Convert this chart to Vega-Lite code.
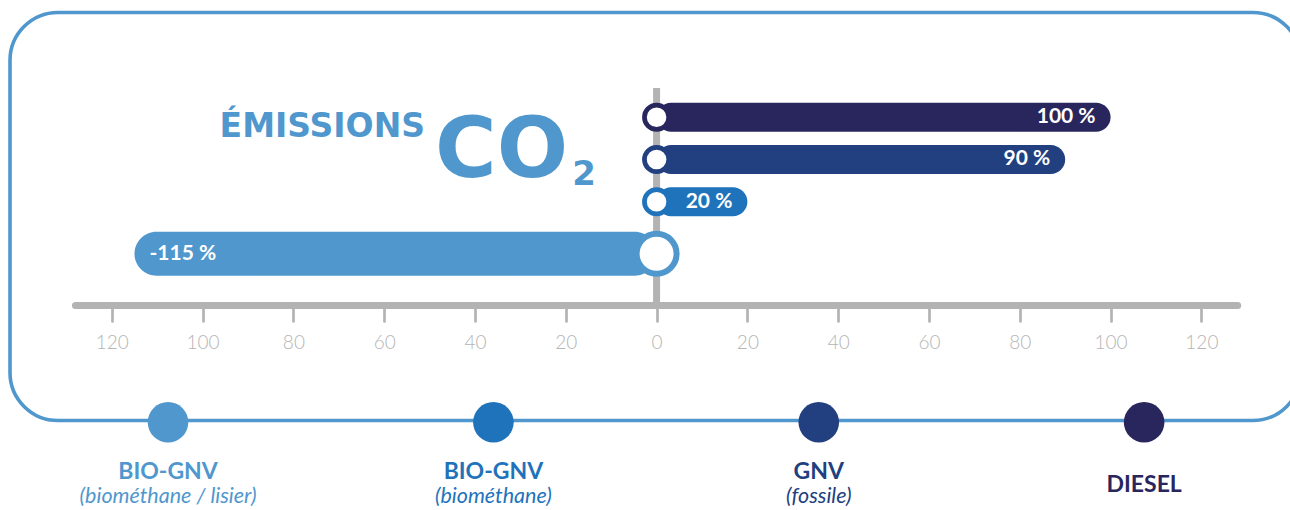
{
  "$schema": "https://vega.github.io/schema/vega-lite/v6.json",
  "width": 1280,
  "height": 408,
  "autosize": {"type": "none"},
  "padding": {"left": 10, "top": 12.5, "right": 0, "bottom": 89.5},
  "background": "white",
  "config": {"view": {"stroke": null}, "font": "Lato"},
  "data": {
    "values": [
      {"fuel": "DIESEL", "name": "DIESEL", "sub": "", "value": 100, "label": "100 %"},
      {"fuel": "GNV (fossile)", "name": "GNV", "sub": "(fossile)", "value": 90, "label": "90 %"},
      {"fuel": "BIO-GNV (biométhane)", "name": "BIO-GNV", "sub": "(biométhane)", "value": 20, "label": "20 %"},
      {"fuel": "BIO-GNV (biométhane / lisier)", "name": "BIO-GNV", "sub": "(biométhane / lisier)", "value": -115, "label": "-115 %"}
    ]
  },
  "resolve": {"scale": {"x": "independent"}, "axis": {"x": "independent"}},
  "layer": [
    {
      "layer": [
        {
          "data": {"values": [{}]},
          "mark": {"type": "rect", "fill": "transparent", "stroke": "#4f97cd", "strokeWidth": 3.6, "cornerRadius": 48},
          "encoding": {
            "x": {"datum": -142.42, "type": "quantitative", "scale": {"domain": [-142.42, 139.52], "nice": false, "zero": false},
                  "axis": {"values": [-120, -100, -80, -60, -40, -20, 0, 20, 40, 60, 80, 100, 120],
                           "labelExpr": "abs(datum.value)", "title": null, "domain": false, "grid": false,
                           "offset": -111.5, "ticks": true, "tickSize": 12, "tickWidth": 2.7, "tickColor": "#b3b3b3", "tickCap": "round",
                           "labelFont": "Lato", "labelFontWeight": 300, "labelFontSize": 19, "labelColor": "#b5b5b5",
                           "labelBaseline": "alphabetic", "labelPadding": 27, "labelFlush": false, "labelOverlap": false}},
            "x2": {"datum": 141.9}
          }
        },
        {
          "data": {"values": [{}]},
          "mark": {"type": "rule", "color": "#b3b3b3", "strokeWidth": 7},
          "encoding": {
            "x": {"datum": 0, "type": "quantitative", "title": null},
            "y": {"datum": "DIESEL", "type": "nominal", "bandPosition": -0.19,
                  "scale": {"domain": ["DIESEL", "GNV (fossile)", "BIO-GNV (biométhane)", "BIO-GNV (biométhane / lisier)"], "range": [83.6, 252.6], "paddingInner": 0, "paddingOuter": 0}, "axis": null},
            "y2": {"datum": "BIO-GNV (biométhane / lisier)", "bandPosition": 1.956}
          }
        },
        {
          "data": {"values": [{}]},
          "mark": {"type": "rule", "color": "#b3b3b3", "strokeWidth": 7, "strokeCap": "round"},
          "encoding": {
            "x": {"datum": -128, "type": "quantitative", "title": null},
            "x2": {"datum": 128},
            "y": {"datum": "BIO-GNV (biométhane / lisier)", "type": "nominal", "bandPosition": 1.956, "axis": null}
          }
        },
        {
          "transform": [{"filter": "datum.value > 0"}],
          "mark": {"type": "bar", "height": 29, "cornerRadiusEnd": 14.5},
          "encoding": {
            "y": {"field": "fuel", "type": "nominal", "axis": null},
            "x": {"field": "value", "type": "quantitative", "title": null},
            "x2": {"datum": 0},
            "color": {"field": "fuel", "type": "nominal", "legend": null,
                      "scale": {"domain": ["DIESEL", "GNV (fossile)", "BIO-GNV (biométhane)", "BIO-GNV (biométhane / lisier)"], "range": ["#29265e", "#223f80", "#1f73bb", "#4f97cd"]}}
          }
        },
        {
          "transform": [{"filter": "datum.value < 0"}],
          "mark": {"type": "bar", "height": 44, "cornerRadiusEnd": 22, "yOffset": 9.75},
          "encoding": {
            "y": {"field": "fuel", "type": "nominal", "axis": null},
            "x": {"field": "value", "type": "quantitative", "title": null},
            "x2": {"datum": 0},
            "color": {"field": "fuel", "type": "nominal", "legend": null}
          }
        },
        {
          "transform": [{"filter": "datum.value > 0"}],
          "mark": {"type": "circle", "fill": "white", "opacity": 1, "fillOpacity": 1, "strokeWidth": 4.7, "size": 590},
          "encoding": {
            "y": {"field": "fuel", "type": "nominal", "axis": null},
            "x": {"datum": 0, "type": "quantitative", "title": null},
            "stroke": {"field": "fuel", "type": "nominal", "legend": null,
                       "scale": {"domain": ["DIESEL", "GNV (fossile)", "BIO-GNV (biométhane)", "BIO-GNV (biométhane / lisier)"], "range": ["#29265e", "#223f80", "#1f73bb", "#4f97cd"]}}
          }
        },
        {
          "transform": [{"filter": "datum.value < 0"}],
          "mark": {"type": "circle", "fill": "white", "opacity": 1, "fillOpacity": 1, "strokeWidth": 6, "size": 1600, "yOffset": 9.75},
          "encoding": {
            "y": {"field": "fuel", "type": "nominal", "axis": null},
            "x": {"datum": 0, "type": "quantitative", "title": null},
            "stroke": {"field": "fuel", "type": "nominal", "legend": null}
          }
        },
        {
          "transform": [{"filter": "datum.value > 0"}],
          "mark": {"type": "text", "align": "right", "baseline": "middle", "dx": -15, "font": "Lato", "fontWeight": "bold", "fontSize": 21, "color": "white"},
          "encoding": {
            "y": {"field": "fuel", "type": "nominal", "axis": null},
            "x": {"field": "value", "type": "quantitative", "title": null},
            "text": {"field": "label"}
          }
        },
        {
          "transform": [{"filter": "datum.value < 0"}],
          "mark": {"type": "text", "align": "left", "baseline": "middle", "dx": 15, "yOffset": 9.75, "font": "Lato", "fontWeight": "bold", "fontSize": 21, "color": "white"},
          "encoding": {
            "y": {"field": "fuel", "type": "nominal", "axis": null},
            "x": {"field": "value", "type": "quantitative", "title": null},
            "text": {"field": "label"}
          }
        },
        {
          "data": {"values": [{}]},
          "mark": {"type": "text", "text": "ÉMISSIONS", "align": "right", "baseline": "alphabetic", "font": "DejaVu Sans", "fontWeight": "bold", "fontSize": 33, "color": "#4f97cd"},
          "encoding": {
            "x": {"datum": -51, "type": "quantitative", "title": null},
            "y": {"datum": "DIESEL", "type": "nominal", "bandPosition": 0.96, "axis": null}
          }
        },
        {
          "data": {"values": [{}]},
          "mark": {"type": "text", "text": "CO", "align": "left", "baseline": "alphabetic", "font": "DejaVu Sans", "fontWeight": "bold", "fontSize": 84, "color": "#4f97cd"},
          "encoding": {
            "x": {"datum": -48.8, "type": "quantitative", "title": null},
            "y": {"datum": "DIESEL", "type": "nominal", "bandPosition": 1.915, "axis": null}
          }
        },
        {
          "data": {"values": [{}]},
          "mark": {"type": "text", "text": "2", "align": "left", "baseline": "alphabetic", "font": "DejaVu Sans", "fontWeight": "bold", "fontSize": 34, "color": "#4f97cd"},
          "encoding": {
            "x": {"datum": -18.6, "type": "quantitative", "title": null},
            "y": {"datum": "DIESEL", "type": "nominal", "bandPosition": 2.104, "axis": null}
          }
        }
      ]
    },
    {
      "encoding": {
        "x": {"field": "fuel", "type": "nominal", "axis": null,
              "scale": {"type": "point", "domain": ["BIO-GNV (biométhane / lisier)", "BIO-GNV (biométhane)", "GNV (fossile)", "DIESEL"], "padding": 0.467, "align": 0.52}},
        "color": {"field": "fuel", "type": "nominal", "legend": null}
      },
      "layer": [
        {
          "mark": {"type": "circle", "size": 1648, "opacity": 1},
          "encoding": {
            "y": {"datum": "BIO-GNV (biométhane / lisier)", "type": "nominal", "bandPosition": 4.72, "axis": null}
          }
        },
        {
          "transform": [{"filter": "datum.sub != ''"}],
          "mark": {"type": "text", "align": "center", "baseline": "alphabetic", "font": "Lato", "fontWeight": "bold", "fontSize": 23},
          "encoding": {
            "y": {"datum": "BIO-GNV (biométhane / lisier)", "type": "nominal", "bandPosition": 6.07, "axis": null},
            "text": {"field": "name"}
          }
        },
        {
          "transform": [{"filter": "datum.sub != ''"}],
          "mark": {"type": "text", "align": "center", "baseline": "alphabetic", "font": "Lato", "fontStyle": "italic", "fontSize": 21.5},
          "encoding": {
            "y": {"datum": "BIO-GNV (biométhane / lisier)", "type": "nominal", "bandPosition": 6.63, "axis": null},
            "text": {"field": "sub"}
          }
        },
        {
          "transform": [{"filter": "datum.sub == ''"}],
          "mark": {"type": "text", "align": "center", "baseline": "alphabetic", "font": "Lato", "fontWeight": "bold", "fontSize": 23},
          "encoding": {
            "y": {"datum": "BIO-GNV (biométhane / lisier)", "type": "nominal", "bandPosition": 6.36, "axis": null},
            "text": {"field": "name"}
          }
        }
      ]
    }
  ]
}
